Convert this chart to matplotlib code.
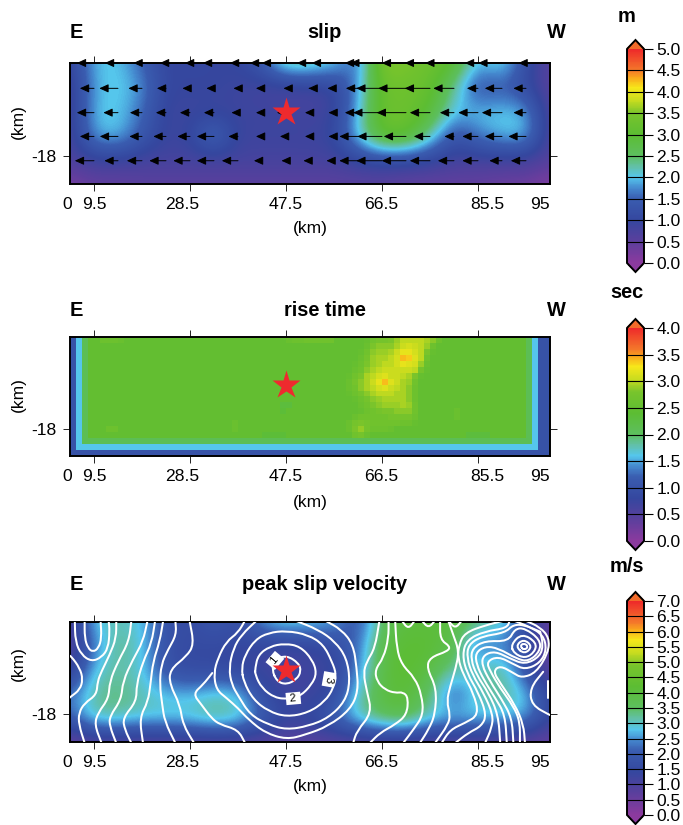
import numpy as np
import matplotlib
matplotlib.use("Agg")
import matplotlib.pyplot as plt
from matplotlib.cm import ScalarMappable
from matplotlib.colors import LinearSegmentedColormap, Normalize
from matplotlib.path import Path
from matplotlib.patches import PathPatch

plt.rcParams['font.family'] = ['Liberation Sans', 'DejaVu Sans']

W, H = 683, 825

#%% DATA

x_ticks = [9.5, 28.5, 47.5, 66.5, 85.5]
x_label_text = ['0', '9.5', '28.5', '47.5', '66.5', '85.5', '95']
x_label_pos = [4.15, 9.5, 26.9, 47.5, 66.3, 87.3, 97.8]
titles = ['slip', 'rise time', 'peak slip velocity']
units = ['m', 'sec', 'm/s']
vmax = [5.0, 4.0, 7.0]
hypo_x, hypo_y = 47.5, -9.4

# slip (m), nodes every 4.75 km along strike, 4.68 km down dip
slip = [
    [0.9, 2.0, 2.05, 1.5, 1.0, 1.0, 1.0, 1.0, 1.4, 2.5, 2.4, 2.1, 1.4, 3.7, 3.5, 3.3, 3.1, 1.9, 2.3, 1.2, 0.5],
    [0.7, 1.9, 2.1, 1.8, 1.0, 1.0, 1.0, 0.9, 0.8, 0.7, 0.8, 0.9, 1.8, 3.3, 3.3, 3.2, 2.3, 1.2, 1.4, 1.1, 0.5],
    [0.7, 2.0, 2.05, 1.6, 0.9, 0.9, 0.9, 0.9, 0.9, 0.9, 0.8, 0.9, 1.9, 3.3, 3.3, 3.0, 2.0, 2.0, 2.05, 1.95, 0.6],
    [0.7, 1.9, 2.05, 1.4, 0.9, 1.0, 1.8, 0.9, 0.9, 0.9, 0.9, 1.0, 2.1, 3.2, 3.2, 2.3, 1.2, 1.7, 2.0, 2.05, 0.6],
    [0.7, 0.9, 0.9, 0.8, 0.8, 0.8, 0.8, 0.8, 0.8, 0.8, 0.8, 0.8, 1.0, 1.1, 1.1, 1.0, 0.8, 0.8, 0.8, 0.8, 0.6],
    [0.2, 0.4, 0.4, 0.5, 0.5, 0.5, 0.5, 0.5, 0.5, 0.5, 0.5, 0.5, 0.5, 0.5, 0.4, 0.4, 0.4, 0.4, 0.3, 0.3, 0.1],
]

# arrow tails and lengths (km) for the slip panel
arrow_tail = [9.5, 14.25, 19, 23.75, 28.5, 33.25, 38, 42.75, 47.5, 52.25, 57, 61.75, 66.5, 71.25, 76, 80.75, 85.5, 90.25, 95]
arrow_depth = [0, -4.9, -9.6, -14.2, -18.9]
arrow_len = [
    [3.4, 2.6, 1.7, 1.2, 1.0, 2.2, 1.6, 2.4, 4.8, 2.6, 4.4, 2.6, 6.3, 4.8, 5.0, 5.7, 2.6, 4.7, 1.5],
    [2.8, 3.7, 2.7, 1.8, 1.5, 1.5, 0.9, 1.2, 0.5, 0.3, 1.3, 2.4, 5.1, 5.5, 5.0, 4.1, 2.2, 3.4, 2.5],
    [3.4, 2.9, 2.4, 2.0, 2.0, 2.0, 1.3, 1.2, 1.8, 1.0, 1.1, 2.6, 5.7, 5.8, 4.0, 2.8, 3.9, 4.0, 2.5],
    [2.8, 3.6, 2.5, 2.5, 2.5, 3.4, 1.9, 1.2, 1.2, 1.0, 1.1, 3.7, 4.9, 4.4, 3.2, 1.9, 3.1, 3.4, 3.5],
    [3.8, 2.7, 3.0, 3.3, 3.3, 3.4, 3.2, 1.6, 0.9, 1.3, 1.5, 3.7, 5.1, 4.8, 4.0, 3.2, 3.1, 2.5, 3.0],
]

# rise time (s): background, border bands and the patch around the two maxima
rise_background = 2.5
rise_band = [1.0, 1.6, 2.1]
rise_patch_col, rise_patch_row = 46, 0
rise_patch = [
    [2.5, 2.5, 2.5, 2.55, 2.7, 2.75, 2.75, 2.8, 2.9, 3.0, 3.0, 3.0, 3.0, 2.95, 2.85, 2.65],
    [2.5, 2.5, 2.5, 2.6, 2.8, 2.85, 2.85, 2.85, 2.95, 3.05, 3.1, 3.05, 3.0, 2.9, 2.65, 2.5],
    [2.5, 2.5, 2.55, 2.7, 2.85, 2.9, 2.9, 2.95, 3.05, 3.2, 3.2, 3.1, 3.0, 2.8, 2.55, 2.5],
    [2.5, 2.5, 2.6, 2.75, 2.9, 2.95, 2.95, 3.0, 3.1, 3.4, 3.35, 3.15, 3.0, 2.7, 2.5, 2.5],
    [2.5, 2.55, 2.65, 2.8, 2.9, 2.95, 3.0, 3.0, 3.1, 3.2, 3.15, 3.1, 2.9, 2.6, 2.5, 2.5],
    [2.5, 2.6, 2.7, 2.85, 2.95, 3.0, 3.05, 3.05, 3.05, 3.05, 3.05, 3.0, 2.75, 2.55, 2.5, 2.5],
    [2.55, 2.7, 2.8, 2.95, 3.0, 3.1, 3.15, 3.05, 3.05, 3.0, 2.95, 2.8, 2.55, 2.5, 2.5, 2.5],
    [2.6, 2.75, 2.85, 2.95, 3.05, 3.2, 3.4, 3.15, 3.05, 2.95, 2.9, 2.7, 2.5, 2.5, 2.5, 2.5],
    [2.6, 2.7, 2.85, 2.95, 3.0, 3.1, 3.15, 3.05, 3.0, 2.95, 2.85, 2.65, 2.5, 2.5, 2.5, 2.5],
    [2.55, 2.65, 2.75, 2.85, 2.95, 3.0, 3.0, 3.0, 2.95, 2.95, 2.85, 2.65, 2.5, 2.5, 2.5, 2.5],
    [2.5, 2.55, 2.65, 2.75, 2.85, 2.9, 2.95, 2.95, 2.95, 2.95, 2.85, 2.65, 2.5, 2.5, 2.5, 2.5],
    [2.5, 2.5, 2.6, 2.7, 2.8, 2.85, 2.9, 2.9, 2.9, 2.95, 2.9, 2.7, 2.5, 2.5, 2.5, 2.5],
    [2.5, 2.5, 2.55, 2.65, 2.7, 2.75, 2.8, 2.8, 2.85, 2.85, 2.85, 2.7, 2.5, 2.5, 2.5, 2.5],
    [2.5, 2.6, 2.7, 2.7, 2.7, 2.7, 2.7, 2.75, 2.75, 2.75, 2.75, 2.65, 2.5, 2.5, 2.5, 2.5],
    [2.6, 2.75, 2.8, 2.75, 2.7, 2.7, 2.7, 2.7, 2.7, 2.65, 2.65, 2.55, 2.5, 2.5, 2.5, 2.5],
    [2.6, 2.8, 2.88, 2.75, 2.65, 2.65, 2.65, 2.6, 2.5, 2.5, 2.5, 2.5, 2.5, 2.5, 2.5, 2.5],
    [2.5, 2.7, 2.75, 2.6, 2.5, 2.5, 2.5, 2.5, 2.5, 2.5, 2.5, 2.5, 2.5, 2.5, 2.5, 2.5],
]
# (col, row, value) of the small spots elsewhere
rise_spots = [(5, 0, 2.65), (6, 0, 2.65), (7, 0, 2.65), (8, 0, 2.6), (36, 0, 2.6), (37, 0, 2.65), (38, 0, 2.65),
              (39, 0, 2.7), (40, 0, 2.7), (41, 0, 2.7), (42, 0, 2.7), (43, 0, 2.7),
              (35, 11, 2.3), (36, 11, 2.3), (35, 12, 2.35), (6, 15, 2.65), (7, 15, 2.65), (27, 15, 2.6), (27, 14, 2.6),
              (64, 12, 2.6), (64, 13, 2.6), (32, 16, 2.35), (33, 16, 2.35), (34, 16, 2.35), (35, 16, 2.35),
              (66, 16, 2.3), (67, 16, 2.3), (68, 16, 2.3), (69, 16, 2.3)]

# peak slip velocity (m/s)
psv = [
    [0.8, 2.9, 3.1, 2.8, 1.8, 1.5, 2.0, 1.6, 2.6, 3.1, 2.9, 2.7, 1.7, 3.6, 4.0, 4.0, 4.0, 3.4, 3.1, 1.8, 0.5],
    [0.7, 2.3, 3.4, 2.9, 1.7, 1.5, 1.5, 1.4, 1.3, 1.2, 1.3, 1.5, 2.2, 3.9, 4.2, 4.2, 3.8, 2.0, 2.4, 1.5, 0.6],
    [1.0, 2.9, 3.2, 2.9, 1.7, 1.5, 1.5, 1.4, 1.2, 1.2, 1.2, 1.3, 2.4, 3.9, 4.3, 3.9, 3.2, 3.1, 3.4, 1.7, 0.6],
    [2.3, 3.2, 3.4, 3.1, 2.8, 2.7, 3.0, 2.9, 1.6, 1.2, 1.2, 1.5, 3.0, 4.0, 4.1, 3.5, 1.8, 3.1, 3.3, 2.9, 1.3],
    [2.0, 3.2, 3.2, 3.0, 3.0, 3.1, 3.4, 3.2, 2.2, 1.4, 1.5, 2.2, 3.1, 3.7, 3.9, 3.0, 2.9, 2.9, 2.8, 2.7, 1.3],
    [0.5, 0.7, 0.7, 0.7, 0.7, 0.7, 0.7, 0.7, 0.7, 0.7, 0.7, 0.7, 0.7, 0.7, 0.7, 0.7, 0.7, 0.7, 0.7, 0.6, 0.5],
]

# rupture front contours, traced (km along strike, km depth)
front_open = [
    [(4.5, -6.5), (5.0, -6.7), (6.7, -9.0), (7.3, -11.2), (6.7, -13.2), (5.0, -14.5), (4.5, -14.9)],
    [(7.65, 0.3), (7.65, -3.1), (8.3, -5.1), (9.3, -5.85), (10.4, -5.1), (11.0, -3.1), (10.8, 0.3)],
    [(5.7, 0.3), (5.8, -3.8), (7.0, -6.4), (9.0, -7.7), (11.0, -6.9), (12.3, -5.1), (12.6, -1.8), (12.4, 0.3)],
    [(13.9, 0.3), (13.9, -3.1), (12.6, -6.4), (11.0, -9.6), (10.2, -11.6), (10.0, -14.2), (7.65, -15.8), (6.5, -17.7), (6.5, -20.0), (7.65, -23.6)],
    [(16.9, 0.3), (16.4, -3.8), (14.25, -7.7), (12.6, -11.6), (12.4, -14.9), (10.3, -17.7), (9.6, -20.0), (11.0, -23.6)],
    [(20.1, 0.3), (19.2, -3.8), (17.2, -7.3), (15.2, -11.6), (14.9, -15.1), (12.6, -18.4), (12.6, -20.3), (13.9, -23.6)],
    [(21.6, 0.3), (20.9, -4.1), (19.2, -7.7), (17.9, -12.2), (17.9, -15.5), (15.2, -18.7), (15.6, -21.0), (16.9, -23.6)],
    [(23.2, 0.3), (22.5, -3.8), (21.2, -7.7), (20.7, -11.9), (20.2, -15.5), (18.5, -18.7), (19.2, -23.6)],
    [(25.6, 0.3), (25.8, -2.5), (24.15, -5.4), (22.8, -8.3), (22.5, -12.2), (23.0, -16.1), (23.5, -19.4), (25.6, -23.6)],
    [(28.4, 0.3), (29.3, -4.4), (27.8, -6.7), (24.5, -9.3), (24.5, -12.2), (26.5, -16.1), (27.1, -20.0), (29.3, -23.6)],
    [(39.4, 0.3), (38.0, -2.1), (35.7, -3.8), (34.05, -7.0), (33.2, -9.95), (33.7, -13.2), (35.7, -14.8), (38.0, -16.8), (40.05, -19.0),
     (43.35, -21.6), (47.6, -22.9), (51.3, -22.0), (55.9, -20.3), (60.2, -17.1), (61.8, -13.5), (61.5, -9.0), (60.8, -4.4), (58.5, -1.5), (55.2, 0.3)],
    [(32.9, -9.95), (31.1, -12.2), (29.1, -14.0), (30.75, -16.1), (32.7, -18.7), (34.4, -20.0), (38.0, -21.0), (39.4, -23.6)],
    [(41.7, 0.3), (38.7, -2.5), (37.1, -5.1), (36.2, -9.0), (36.75, -12.2), (38.1, -14.5), (40.4, -18.1), (44.0, -20.0), (47.6, -21.0), (51.9, -20.3),
     (55.9, -18.7), (59.2, -15.5), (60.2, -11.6), (59.5, -7.0), (57.2, -3.8), (53.9, -1.5), (49.3, 0.3)],
    [(66.0, 0.3), (65.1, -5.1), (63.5, -7.7), (62.8, -9.95), (63.5, -13.5), (64.5, -17.7), (61.5, -21.3), (60.8, -23.6)],
    [(67.8, 0.3), (67.8, -3.1), (66.8, -7.0), (65.1, -9.3), (65.5, -11.6), (67.1, -13.2), (69.1, -13.85), (70.7, -13.65), (71.7, -14.8), (71.4, -18.1),
     (69.1, -20.0), (66.1, -21.6), (64.1, -23.6)],
    [(69.1, 0.3), (69.4, -5.1), (70.4, -8.3), (73.0, -10.9), (74.35, -14.2), (74.7, -18.1), (72.7, -21.0), (70.7, -23.6)],
    [(70.4, 0.3), (71.7, -1.4), (73.0, 0.3)],
    [(74.35, 0.3), (75.7, -1.2), (77.0, 0.3)],
    [(78.0, 0.3), (78.0, -3.45), (80.0, -4.75), (79.5, -5.7), (76.0, -6.9), (75.35, -9.0), (77.3, -12.9), (77.0, -18.1), (75.7, -21.0), (74.0, -23.6)],
    [(79.6, 0.3), (81.0, -1.3), (82.3, 0.3)],
    [(79.6, 0.3), (80.6, -2.5), (81.75, -5.7), (81.1, -9.0), (80.0, -12.5), (79.3, -15.5), (80.0, -18.1), (79.6, -20.0), (77.0, -23.6)],
    [(90.85, 0.3), (86.9, -0.65), (82.9, -2.1), (81.75, -4.4), (81.5, -7.0), (82.6, -10.3), (84.6, -13.85), (85.7, -18.1), (82.9, -19.7), (80.0, -21.0), (78.3, -23.6)],
    [(91.8, 0.3), (91.2, -1.2), (86.9, -1.8), (83.3, -3.45), (82.4, -6.4), (83.3, -9.95), (85.6, -13.85), (87.2, -18.1), (86.2, -20.3), (83.6, -21.6), (81.0, -23.6)],
    [(97.8, -1.9), (94.8, -0.6), (92.5, -0.5), (90.85, -2.1), (86.2, -2.8), (83.6, -4.4), (83.3, -7.0), (84.4, -10.3), (86.6, -13.85), (88.5, -18.1), (88.2, -20.7), (86.9, -23.6)],
    [(89.9, -23.6), (89.5, -18.1), (87.6, -13.85), (85.2, -10.3), (84.1, -7.3), (84.4, -5.1), (86.9, -3.65), (91.5, -3.8), (92.8, -1.3), (94.8, -1.2),
     (97.8, -3.45), (97.8, -5.7), (95.5, -7.7), (93.2, -7.2), (89.5, -5.1), (86.9, -4.75), (85.0, -6.0), (85.2, -8.3), (86.6, -11.2), (88.9, -14.8), (90.85, -18.1), (91.2, -23.6)],
    [(97.8, -1.9), (98.4, -4.4), (97.8, -6.7), (94.8, -8.3), (91.8, -7.1), (88.9, -5.7), (86.6, -6.4), (86.2, -8.3), (87.9, -11.6), (90.2, -15.1), (92.2, -18.7), (92.5, -23.6)],
    [(92.5, 0.3), (95.5, -0.85), (98.4, -2.5), (99.1, -5.4), (97.8, -8.0), (94.8, -9.3), (92.5, -8.2), (89.5, -6.7), (87.2, -7.7), (87.9, -9.6), (89.9, -12.9), (92.5, -16.4), (93.8, -19.4), (93.8, -23.6)],
    [(94.8, 0.3), (97.8, -1.0), (99.6, -3.1), (99.4, -6.0), (97.0, -9.9), (94.15, -10.9), (92.5, -9.95), (89.9, -8.5), (88.5, -9.6), (89.9, -11.9), (92.8, -16.1), (94.5, -20.0), (94.8, -23.6)],
    [(98.4, -9.7), (95.8, -12.9), (96.1, -16.2), (99.8, -18.2), (100.2, -18.3)],
    [(99.4, -11.6), (99.4, -14.8)],
]
front_closed = [
    [(44.7, -9.3), (45.2, -7.3), (47.6, -6.5), (50.0, -8.0), (50.5, -9.6), (49.6, -11.2), (47.6, -12.2), (45.7, -11.6)],
    [(41.4, -9.0), (42.0, -6.4), (44.3, -4.75), (47.3, -4.2), (50.3, -4.75), (52.7, -7.3), (53.6, -9.95), (52.6, -12.2), (50.3, -14.5), (48.0, -15.0), (45.3, -14.8), (42.7, -12.9), (41.4, -10.3)],
    [(38.7, -9.0), (39.4, -6.4), (41.4, -3.45), (44.0, -2.1), (47.6, -1.7), (51.9, -2.5), (54.9, -4.4), (56.6, -7.7), (57.5, -10.3), (56.9, -12.9), (55.2, -15.5), (51.9, -17.7), (47.6, -18.5), (44.0, -17.4), (41.0, -15.1), (39.1, -11.6)],
    [(93.8, -4.75), (94.5, -4.1), (95.5, -4.75), (94.7, -5.5)],
    [(92.9, -4.75), (94.5, -3.3), (96.3, -4.75), (94.7, -6.3)],
    [(92.0, -4.4), (94.2, -2.2), (97.1, -4.0), (96.7, -5.9), (94.8, -7.1), (92.6, -6.1)],
]
front_labels = [('1', 45.3, -7.5, 50), ('2', 48.95, -14.9, 5), ('3', 56.0, -11.2, -100)]

#%% COLOURS

stops = [(0.0, '#8b3a9e'), (0.1, '#5b3f9d'), (0.2, '#35479f'), (0.3, '#3a5db0'), (0.35, '#4589cf'), (0.4, '#55c6ec'),
         (0.45, '#62c0a8'), (0.5, '#5dbf60'), (0.6, '#5cbd33'), (0.7, '#78c42c'), (0.76, '#c8dc1f'), (0.82, '#f7e71a'),
         (0.87, '#f9a31c'), (0.9, '#f4792a'), (1.0, '#ee2a2a')]
cmap = LinearSegmentedColormap.from_list('slipmap', stops, N=256)
cmap.set_over('#f26b2a')
cmap.set_under('#8b3a9e')


def rect(left, top, right, bottom):
    return [left / W, 1 - bottom / H, (right - left) / W, (bottom - top) / H]


def smooth_patch(pts, closed=False):
    # quadratic pieces through the midpoints of the traced vertices
    pts = np.array(pts, float)
    if closed:
        mids = (pts + np.roll(pts, -1, axis=0)) / 2
        verts = [mids[-1]]
        codes = [Path.MOVETO]
        for p, m in zip(pts, mids):
            verts += [p, m]
            codes += [Path.CURVE3, Path.CURVE3]
    else:
        verts = [pts[0]]
        codes = [Path.MOVETO]
        if len(pts) > 2:
            mids = (pts[:-1] + pts[1:]) / 2
            verts.append(mids[0])
            codes.append(Path.LINETO)
            for p, m in zip(pts[1:-1], mids[1:]):
                verts += [p, m]
                codes += [Path.CURVE3, Path.CURVE3]
        verts.append(pts[-1])
        codes.append(Path.LINETO)
    return PathPatch(Path(verts, codes), fc='none', ec='white', lw=1.45, capstyle='round', joinstyle='round', zorder=3)


def frame(ax):
    ax.set_xlim(4.75, 99.75)
    ax.set_ylim(-23.4, 0)
    ax.set_xticks(x_ticks)
    ax.set_xticklabels([])
    ax.set_yticks([-18])
    ax.set_yticklabels(['-18'], fontsize=12.6)
    ax.tick_params(top=True, right=True, length=5, width=0.6, pad=5, direction='out')
    for sp in ax.spines.values():
        sp.set_linewidth(1.4)
    for txt, xp in zip(x_label_text, x_label_pos):
        ax.annotate(txt, xy=(xp, 0), xycoords=('data', 'axes fraction'), xytext=(0, -15), textcoords='offset points',
                    ha='center', va='center', fontsize=12.6, annotation_clip=False)
    ax.plot(hypo_x, hypo_y, marker='*', ms=21, color='#ee2a2e', mec='none', zorder=6, clip_on=False)


def node_image(ax, values, top):
    nx, ny = len(values[0]), len(values)
    dx, dy = 95.0 / (nx - 1), 23.4 / (ny - 1)
    ax.imshow(values, cmap=cmap, norm=Normalize(0, top), aspect='auto', interpolation='bicubic', interpolation_stage='data',
              extent=[4.75 - dx / 2, 99.75 + dx / 2, -23.4 - dy / 2, dy / 2], origin='upper')


def colour_bar(top_px, bottom_px, top, unit, unit_y):
    # the axes holds the triangles too
    cax = fig.add_axes(rect(627, top_px - 9, 644, bottom_px + 9))
    cb = fig.colorbar(ScalarMappable(norm=Normalize(0, top), cmap=cmap), cax=cax, extend='both', extendfrac=9 / (bottom_px - top_px),
                      ticks=np.arange(0, top + 0.01, 0.5))
    cb.ax.set_yticklabels(['%.1f' % v for v in np.arange(0, top + 0.01, 0.5)], fontsize=12.5)
    cb.ax.tick_params(length=6.5, width=0.8, pad=2.5)
    cb.ax.hlines(np.arange(0.5, top, 0.5), 0, 1, colors='k', lw=0.8, zorder=5)
    cb.outline.set_linewidth(1.4)
    fig.text(627 / W, 1 - unit_y / H, unit, fontsize=14.4, fontweight='bold', ha='center', va='center')


#%% FIGURE

fig = plt.figure(figsize=(W / 100, H / 100), dpi=100)

ax1 = fig.add_axes(rect(70, 63, 550, 184))
ax2 = fig.add_axes(rect(70, 337, 550, 456))
ax3 = fig.add_axes(rect(70, 622, 550, 742))

node_image(ax1, slip, vmax[0])
for row, depth in zip(arrow_len, arrow_depth):
    for tail, length in zip(arrow_tail, row):
        ax1.annotate('', xy=(tail - length, depth), xytext=(tail, depth), annotation_clip=False, zorder=4,
                     arrowprops=dict(arrowstyle='-|>,head_length=0.55,head_width=0.25', color='k', lw=0.7,
                                     shrinkA=0, shrinkB=0, mutation_scale=10))

rise = np.full((20, 80), rise_background)
patch = np.array(rise_patch)
rise[rise_patch_row:rise_patch_row + patch.shape[0], rise_patch_col:rise_patch_col + patch.shape[1]] = patch
for c, r, v in rise_spots:
    rise[r, c] = v
for i, v in enumerate(rise_band):
    rise[:, i] = np.minimum(rise[:, i], v)
    rise[-1 - i, :] = np.minimum(rise[-1 - i, :], v)
    rise[:, -2 - i] = np.minimum(rise[:, -2 - i], v)
rise[:, -1] = rise_band[0]
ax2.imshow(rise, cmap=cmap, norm=Normalize(0, vmax[1]), aspect='auto', interpolation='nearest',
           extent=[4.75, 99.75, -23.4, 0], origin='upper')

node_image(ax3, psv, vmax[2])
for line in front_open:
    ax3.add_patch(smooth_patch(line))
for line in front_closed:
    ax3.add_patch(smooth_patch(line, closed=True))
for txt, xp, yp, rot in front_labels:
    ax3.text(xp, yp, ' %s ' % txt, fontsize=8, rotation=rot, ha='center', va='center', zorder=4,
             bbox=dict(fc='white', ec='none', pad=0.8))

for ax in (ax1, ax2, ax3):
    frame(ax)

# panel headers and axis captions, vertical centres in pixels
head_y = [33, 311, 585]
caption_y = [228, 502, 786]
ylabel_y = [122, 395, 664]
for i in range(3):
    yh = 1 - head_y[i] / H
    fig.text(324.5 / W, yh, titles[i], fontsize=14.4, fontweight='bold', ha='center', va='center')
    fig.text(76 / W, yh, 'E', fontsize=14.4, fontweight='bold', ha='center', va='center')
    fig.text(556 / W, yh, 'W', fontsize=14.4, fontweight='bold', ha='center', va='center')
    fig.text(310 / W, 1 - caption_y[i] / H, '(km)', fontsize=12.5, ha='center', va='center')
    fig.text(18 / W, 1 - ylabel_y[i] / H, '(km)', fontsize=12.5, rotation=90, ha='center', va='center')

colour_bar(49, 263, vmax[0], units[0], 16)
colour_bar(328, 541, vmax[1], units[1], 293)
colour_bar(601, 815, vmax[2], units[2], 567)

fig.savefig('out.png', dpi=100)
